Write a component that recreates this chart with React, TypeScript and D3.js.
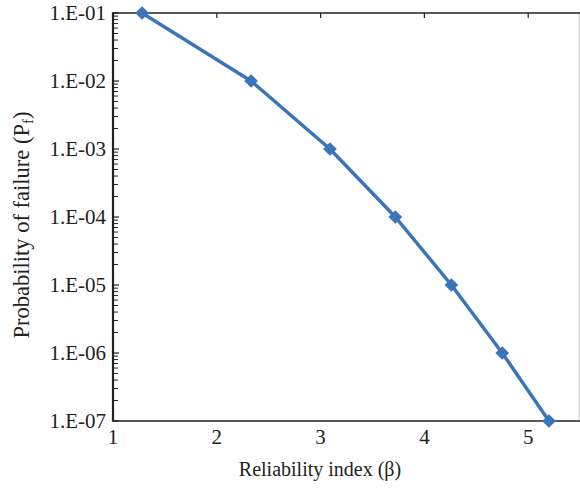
import React from "react";
import * as d3 from "d3";

const betaValues = [1.28, 2.33, 3.09, 3.72, 4.26, 4.75, 5.2];
const pfValues = [1e-1, 1e-2, 1e-3, 1e-4, 1e-5, 1e-6, 1e-7];
const xTicks = [1, 2, 3, 4, 5];
const yTicks = [1e-7, 1e-6, 1e-5, 1e-4, 1e-3, 1e-2, 1e-1];
const yTickLabels = ["1.E-07", "1.E-06", "1.E-05", "1.E-04", "1.E-03", "1.E-02", "1.E-01"];

const W = 580;
const H = 490;
const left = 113;
const right = 579;
const top = 13;
const bottom = 421;
const blue = "#3a75b9";
const font = "'Liberation Serif', 'Times New Roman', serif";

export default function App() {
  const x = d3.scaleLinear().domain([1, 5.5]).range([left, left + 4.5 * 103.8]);
  const y = d3.scaleLog().domain([1e-7, 1e-1]).range([bottom, top]);

  const minor: number[] = [];
  for (let e = -7; e < -1; e++) {
    for (let m = 2; m <= 9; m++) minor.push(m * Math.pow(10, e));
  }

  const line = d3
    .line<number>()
    .x((_, i) => x(betaValues[i]))
    .y((d) => y(d));

  const diamond = d3.symbol().type(d3.symbolDiamond2).size(120)();

  return (
    <svg
      width={W}
      height={H}
      style={{ position: "absolute", left: 0, top: 0, background: "#fff" }}
      fontFamily={font}
    >
      <rect x={0} y={0} width={W} height={H} fill="#fff" />
      {/* frame */}
      <line x1={right} x2={right} y1={top} y2={bottom} stroke="#c8c8c8" strokeWidth={1} />
      <line x1={left} x2={right + 1} y1={top} y2={top} stroke="#222" strokeWidth={1.6} />
      <line x1={left} x2={right + 1} y1={bottom} y2={bottom} stroke="#222" strokeWidth={1.6} />
      <line x1={left} x2={left} y1={top - 0.8} y2={bottom + 0.8} stroke="#222" strokeWidth={2.2} />
      {/* top ticks */}
      {xTicks.slice(1).map((t) => (
        <line key={"tt" + t} x1={x(t)} x2={x(t)} y1={top} y2={top + 5} stroke="#222" strokeWidth={1.2} />
      ))}
      {/* y minor ticks */}
      {minor.map((v, i) => (
        <line key={"m" + i} x1={left} x2={left + 5} y1={y(v)} y2={y(v)} stroke="#222" strokeWidth={1} />
      ))}
      {yTicks.map((v) => (
        <line key={"M" + v} x1={left} x2={left + 6} y1={y(v)} y2={y(v)} stroke="#222" strokeWidth={1.2} />
      ))}
      {/* y labels */}
      {yTicks.map((v, i) => (
        <text key={"yl" + i} x={left - 7} y={y(v)} dy="0.35em" textAnchor="end" fontSize={21} fill="#222">
          {yTickLabels[i]}
        </text>
      ))}
      {/* x labels */}
      {xTicks.map((t) => (
        <text key={"xl" + t} x={x(t)} y={bottom + 23} textAnchor="middle" fontSize={21} fill="#222">
          {t}
        </text>
      ))}
      {/* titles */}
      <text x={320} y={476} textAnchor="middle" fontSize={20} fill="#222">
        Reliability index (β)
      </text>
      <text
        transform={`translate(29, ${225}) rotate(-90)`}
        textAnchor="middle"
        fontSize={22.5}
        fill="#222"
      >
        Probability of failure (P
        <tspan fontSize={15} dy={4}>f</tspan>
        <tspan dy={-4}>)</tspan>
      </text>
      {/* series */}
      <path d={line(pfValues) || ""} fill="none" stroke={blue} strokeWidth={3.5} strokeLinejoin="round" />
      {pfValues.map((v, i) => (
        <path key={"p" + i} d={diamond || ""} transform={`translate(${x(betaValues[i])},${y(v)})`} fill={blue} />
      ))}
    </svg>
  );
}
